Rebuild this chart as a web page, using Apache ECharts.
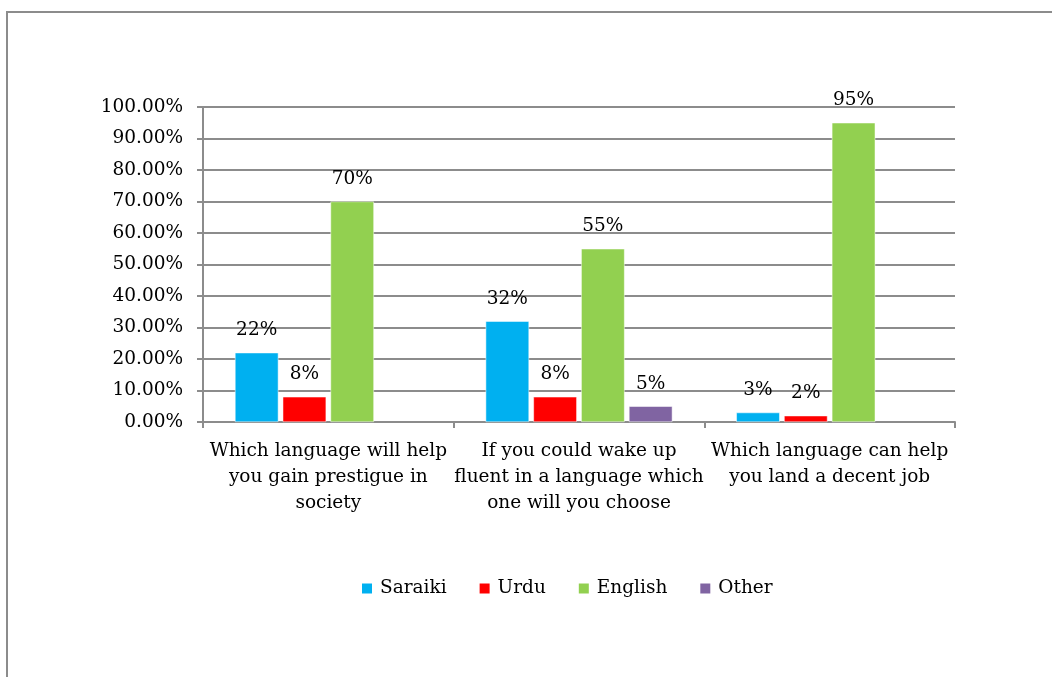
<!DOCTYPE html>
<html>
<head>
<meta charset="utf-8">
<script src="https://cdn.jsdelivr.net/npm/echarts@6/dist/echarts.min.js"></script>
<style>
  html, body { margin: 0; padding: 0; background: #fff; }
  #frame {
    position: absolute; left: 6px; top: 11px; width: 1060px; height: 700px;
    border-left: 2px solid #8c8c8c; border-top: 2px solid #8c8c8c;
  }
  #chart { position: absolute; left: 0; top: 0; width: 1052px; height: 677px; }
</style>
</head>
<body>
<div id="frame"></div>
<div id="chart"></div>
<script>
// Survey questions (category axis)
const categories = [
  'Which language will help\nyou gain prestigue in\nsociety',
  'If you could wake up\nfluent in a language which\none will you choose',
  'Which language can help\nyou land a decent job'
];
// Share of respondents per language, in percent
const saraiki = [22, 32, 3];
const urdu = [8, 8, 2];
const english = [70, 55, 95];
const other = [null, 5, null];

const seriesNames = ['Saraiki', 'Urdu', 'English', 'Other'];
const seriesData = [saraiki, urdu, english, other];
const colors = ['#00b0f0', '#ff0000', '#92d050', '#8064a2'];

const FONT = '"DejaVu Serif", "Liberation Serif", serif';
const FS = 18.5;

const chart = echarts.init(document.getElementById('chart'), null, { renderer: 'canvas' });

chart.setOption({
  backgroundColor: 'transparent',
  animation: false,
  textStyle: { fontFamily: FONT },
  grid: { left: 203, right: 97, top: 107, bottom: 255, containLabel: false },
  legend: {
    data: seriesNames,
    bottom: 74,
    left: 355,
    itemWidth: 12,
    itemHeight: 12,
    itemGap: 31,
    icon: 'rect',
    textStyle: { fontFamily: FONT, fontSize: FS, color: '#000', padding: [0, 0, 0, 2] }
  },
  xAxis: {
    type: 'category',
    data: categories,
    axisLine: { lineStyle: { color: '#8c8c8c', width: 2 } },
    axisTick: { show: true, length: 6, alignWithLabel: false, lineStyle: { color: '#8c8c8c', width: 2 } },
    axisLabel: {
      interval: 0,
      fontFamily: FONT,
      fontSize: FS,
      color: '#000',
      lineHeight: 26,
      margin: 16
    }
  },
  yAxis: {
    type: 'value',
    min: 0,
    max: 100,
    interval: 10,
    axisLine: { show: true, lineStyle: { color: '#8c8c8c', width: 2 } },
    axisTick: { show: true, length: 6, lineStyle: { color: '#8c8c8c', width: 2 } },
    splitLine: { lineStyle: { color: '#8c8c8c', width: 2 } },
    axisLabel: {
      fontFamily: FONT,
      fontSize: FS,
      color: '#000',
      margin: 20,
      formatter: v => v.toFixed(2) + '%'
    }
  },
  series: seriesNames.map((name, i) => ({
    name,
    type: 'bar',
    data: seriesData[i],
    barGap: '10%',
    barCategoryGap: '25.5%',
    itemStyle: { color: colors[i], borderColor: '#fff', borderWidth: 0.5 },
    label: {
      show: true,
      position: 'top',
      distance: 13,
      fontFamily: FONT,
      fontSize: FS,
      color: '#000',
      formatter: p => p.value + '%'
    }
  }))
});
</script>
</body>
</html>
